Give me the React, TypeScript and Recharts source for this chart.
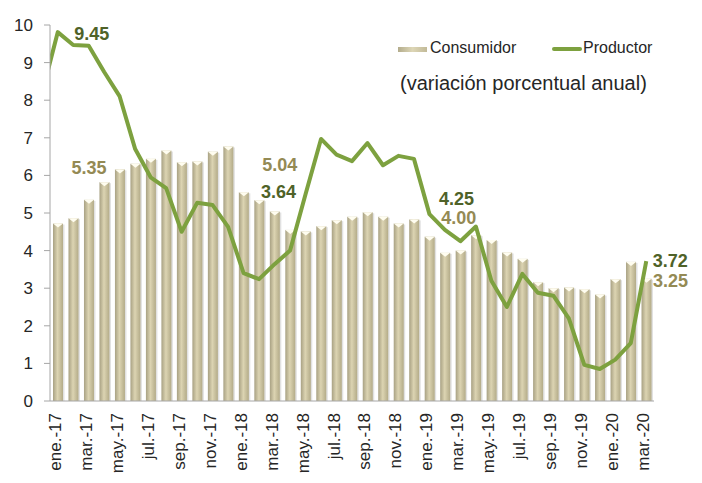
import { Bar, ComposedChart, LabelList, Legend, Line, XAxis, YAxis } from 'recharts'

// inflación anual México: consumidor (barras) vs productor (línea), ene.-17 a mar.-20

const categorias = [
  'ene.-17', 'feb.-17', 'mar.-17', 'abr.-17', 'may.-17', 'jun.-17', 'jul.-17', 'ago.-17', 'sep.-17', 'oct.-17', 'nov.-17', 'dic.-17',
  'ene.-18', 'feb.-18', 'mar.-18', 'abr.-18', 'may.-18', 'jun.-18', 'jul.-18', 'ago.-18', 'sep.-18', 'oct.-18', 'nov.-18', 'dic.-18',
  'ene.-19', 'feb.-19', 'mar.-19', 'abr.-19', 'may.-19', 'jun.-19', 'jul.-19', 'ago.-19', 'sep.-19', 'oct.-19', 'nov.-19', 'dic.-19',
  'ene.-20', 'feb.-20', 'mar.-20',
]

const consumidor = [
  4.72, 4.86, 5.35, 5.82, 6.16, 6.31, 6.44, 6.66, 6.35, 6.37, 6.63, 6.77,
  5.55, 5.34, 5.04, 4.55, 4.51, 4.65, 4.81, 4.9, 5.02, 4.9, 4.72, 4.83,
  4.37, 3.94, 4.0, 4.41, 4.28, 3.95, 3.78, 3.16, 3.0, 3.02, 2.97, 2.83,
  3.24, 3.7, 3.25,
]

const productor = [
  9.81, 9.47, 9.45, 8.75, 8.1, 6.7, 5.95, 5.66, 4.5, 5.27, 5.21, 4.63,
  3.4, 3.24, 3.64, 4.0, 5.5, 6.97, 6.55, 6.38, 6.86, 6.27, 6.52, 6.44,
  4.97, 4.55, 4.25, 4.64, 3.2, 2.5, 3.38, 2.88, 2.8, 2.2, 0.96, 0.85,
  1.1, 1.54, 3.72,
]

// dic.-16: solo se ve el tramo que entra por el eje
const productorPrevio = 8.2

const yTicks = [0, 1, 2, 3, 4, 5, 6, 7, 8, 9, 10]
const xTicksEtiqueta = categorias.map((_, k) => k).filter((k) => k % 2 === 0)
const xTicksMarca = xTicksEtiqueta.map((k) => k - 0.5)

const filas = [
  { i: -1, cat: 'dic.-16', productor: productorPrevio },
  ...categorias.map((cat, k) => ({ i: k, cat, consumidor: consumidor[k], productor: productor[k] })),
]

// desplazamiento de las etiquetas destacadas
const etiquetasLinea: Record<string, [number, number]> = {
  'mar.-17': [3, -12],
  'mar.-18': [4, -72],
  'mar.-19': [-4, -42],
  'mar.-20': [24, 0],
}
const etiquetasBarra: Record<string, [number, number]> = {
  'mar.-17': [0, -32],
  'mar.-18': [5, -46],
  'mar.-19': [-2, -33],
  'mar.-20': [24, 2],
}

const FUENTE = '"Liberation Sans", Arial, sans-serif'
const VERDE = '#7DA13F'

function Barra(props: any) {
  const { x, y, width, height } = props
  if (!height || height <= 0) return null
  return (
    <g>
      <rect x={x + 1.5} y={y + 1} width={width} height={height - 1} fill="#D4D4D4" opacity={0.7} />
      <rect x={x} y={y} width={width} height={height} fill="url(#gradBarra)" />
      <path d={`M${x},${y} L${x + width},${y} L${x + width / 2},${y + 4} Z`} fill="#FFFDF0" />
    </g>
  )
}

// la LabelList recibe la categoría como valor; el número se toma de la serie
function etiqueta(p: any, mapa: Record<string, [number, number]>, serie: number[], color: string, esBarra: boolean) {
  const cat = String(p.value)
  const off = mapa[cat]
  if (!off) return null
  const valor = serie[categorias.indexOf(cat)]
  const cx = (esBarra ? p.x + p.width / 2 : p.x) + off[0]
  const cy = p.y + off[1]
  return (
    <text x={cx} y={cy} textAnchor="middle" dominantBaseline="central" fontFamily={FUENTE} fontSize={18} fontWeight="bold" fill={color}>
      {valor.toFixed(2)}
    </text>
  )
}

function TickMes({ x, y, payload }: any) {
  return (
    <text x={x} y={y} transform={`rotate(-90, ${x}, ${y})`} textAnchor="end" dx={-11} dy={3} fontFamily={FUENTE} fontSize={17} fill="#262626">
      {categorias[payload.value]}
    </text>
  )
}

function Leyenda() {
  return (
    <div style={{ fontFamily: FUENTE, color: '#262626', position: 'relative', width: 300, height: 60 }}>
      <span style={{ position: 'absolute', left: 0, top: 9, width: 29, height: 5, background: 'linear-gradient(90deg, #B3AC8C, #DDD6B6, #C2BA98)' }} />
      <span style={{ position: 'absolute', left: 32, top: 1, fontSize: 16 }}>Consumidor</span>
      <span style={{ position: 'absolute', left: 154, top: 9, width: 30, height: 4, background: VERDE, borderRadius: 2 }} />
      <span style={{ position: 'absolute', left: 185, top: 1, fontSize: 16 }}>Productor</span>
      <span style={{ position: 'absolute', left: 2, top: 34, fontSize: 20, whiteSpace: 'nowrap' }}>(variación porcentual anual)</span>
    </div>
  )
}

export default function App() {
  return (
    <div style={{ position: 'absolute', left: 0, top: 0, background: '#fff' }}>
      <ComposedChart width={702} height={483} data={filas} margin={{ top: 25, right: 48, bottom: 0, left: 0 }}>
        <defs>
          <linearGradient id="gradBarra" x1="0" x2="1" y1="0" y2="0">
            <stop offset="0%" stopColor="#A8A183" />
            <stop offset="45%" stopColor="#DCD4B2" />
            <stop offset="100%" stopColor="#B3AB88" />
          </linearGradient>
        </defs>
        {/* eje con las marcas entre categorías (pegado al área de trazado) */}
        <XAxis
          type="number"
          dataKey="i"
          domain={[-0.5, 38.5]}
          allowDataOverflow
          ticks={xTicksMarca}
          tick={false}
          tickSize={5}
          height={1}
          stroke="#A6A6A6"
        />
        {/* eje con los nombres de los meses */}
        <XAxis
          xAxisId="meses"
          type="number"
          dataKey="i"
          domain={[-0.5, 38.5]}
          allowDataOverflow
          ticks={xTicksEtiqueta}
          interval={0}
          tick={<TickMes />}
          tickLine={false}
          axisLine={false}
          tickSize={0}
          tickMargin={0}
          height={81}
        />
        <YAxis
          domain={[0, 10]}
          ticks={yTicks}
          width={50}
          tickSize={6}
          tickMargin={11}
          stroke="#A6A6A6"
          tick={{ fontFamily: FUENTE, fontSize: 17, fill: '#262626' }}
        />
        <Legend content={<Leyenda />} layout="horizontal" verticalAlign="middle" align="center" wrapperStyle={{ left: 398, top: 38, width: 300, height: 60 }} />
        <Bar dataKey="consumidor" barSize={10} shape={<Barra />} isAnimationActive={false}>
          <LabelList dataKey="cat" content={(p: any) => etiqueta(p, etiquetasBarra, consumidor, '#948A54', true)} />
        </Bar>
        <Line
          dataKey="productor"
          type="linear"
          stroke={VERDE}
          strokeWidth={4}
          strokeLinejoin="round"
          dot={false}
          isAnimationActive={false}
        >
          <LabelList dataKey="cat" content={(p: any) => etiqueta(p, etiquetasLinea, productor, '#4F6228', false)} />
        </Line>
      </ComposedChart>
    </div>
  )
}
